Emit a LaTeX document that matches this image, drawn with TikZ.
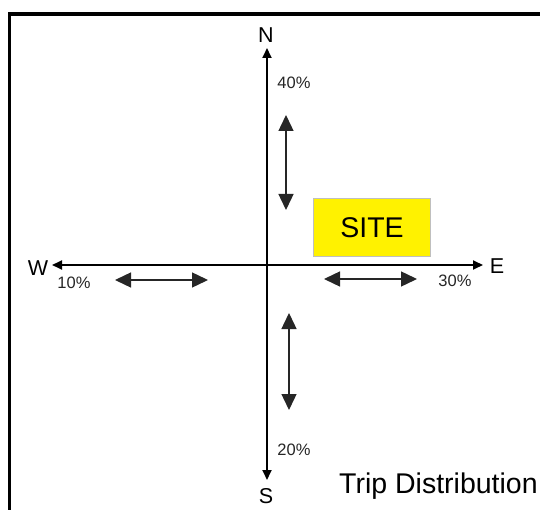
\documentclass[tikz,border=0pt]{standalone}
\usepackage{fontspec}
\setmainfont{Liberation Sans}
\usetikzlibrary{arrows.meta}
\begin{document}
\begin{tikzpicture}[x=1pt,y=-1pt,
  axis/.style={line width=1.8pt,draw=black,{Triangle[length=10pt,width=9pt]}-{Triangle[length=10pt,width=9pt]}},
  dbl/.style={line width=1.4pt,draw=black!85,{Triangle[length=16pt,width=15pt]}-{Triangle[length=16pt,width=15pt]}},
  dir/.style={inner sep=0pt,font=\fontsize{21.5}{24}\selectfont},
  pct/.style={inner sep=0pt,font=\fontsize{16.5}{18}\selectfont,text=black!85},
  sitebox/.style={draw=black!25,line width=1pt,fill=yellow,minimum width=117pt,minimum height=58pt,font=\fontsize{28.5}{30}\selectfont}]
\useasboundingbox (0,0) rectangle (540,510);
\fill[white] (0,0) rectangle (540,510);
\draw[line width=3.5pt] (9.5,530) -- (9.5,14) -- (560,14);
% direction labels
\node[dir] (n) at (266,35) {N};
\node[dir] (s) at (266,496) {S};
\node[dir] (w) at (38,268) {W};
\node[dir] (e) at (497,266) {E};
% axes
\coordinate (ntip) at (267,48);
\coordinate (stip) at (267,480);
\coordinate (wtip) at (52,265);
\coordinate (etip) at (483,265);
\draw[axis] (ntip) -- (stip);
\draw[axis] (wtip) -- (etip);
% percentages
\node[pct] (p40) at (294,83) {40\%};
\node[pct] (p20) at (294,450) {20\%};
\node[pct] (p10) at (74,283) {10\%};
\node[pct] (p30) at (455,281) {30\%};
% double arrows
\coordinate (a1) at (286,115); \coordinate (a2) at (286,210);
\coordinate (b1) at (289,313); \coordinate (b2) at (289,410);
\coordinate (c1) at (115,280); \coordinate (c2) at (208,280);
\coordinate (d1) at (324,279); \coordinate (d2) at (417,279);
\draw[dbl] (a1) -- (a2);
\draw[dbl] (b1) -- (b2);
\draw[dbl] (c1) -- (c2);
\draw[dbl] (d1) -- (d2);
% site
\node[sitebox] (site) at (372,228) {SITE};
% title
\node[inner sep=0pt,anchor=base west,font=\fontsize{28.5}{30}\selectfont] (title) at (339,493) {Trip Distribution};
\end{tikzpicture}
\end{document}
